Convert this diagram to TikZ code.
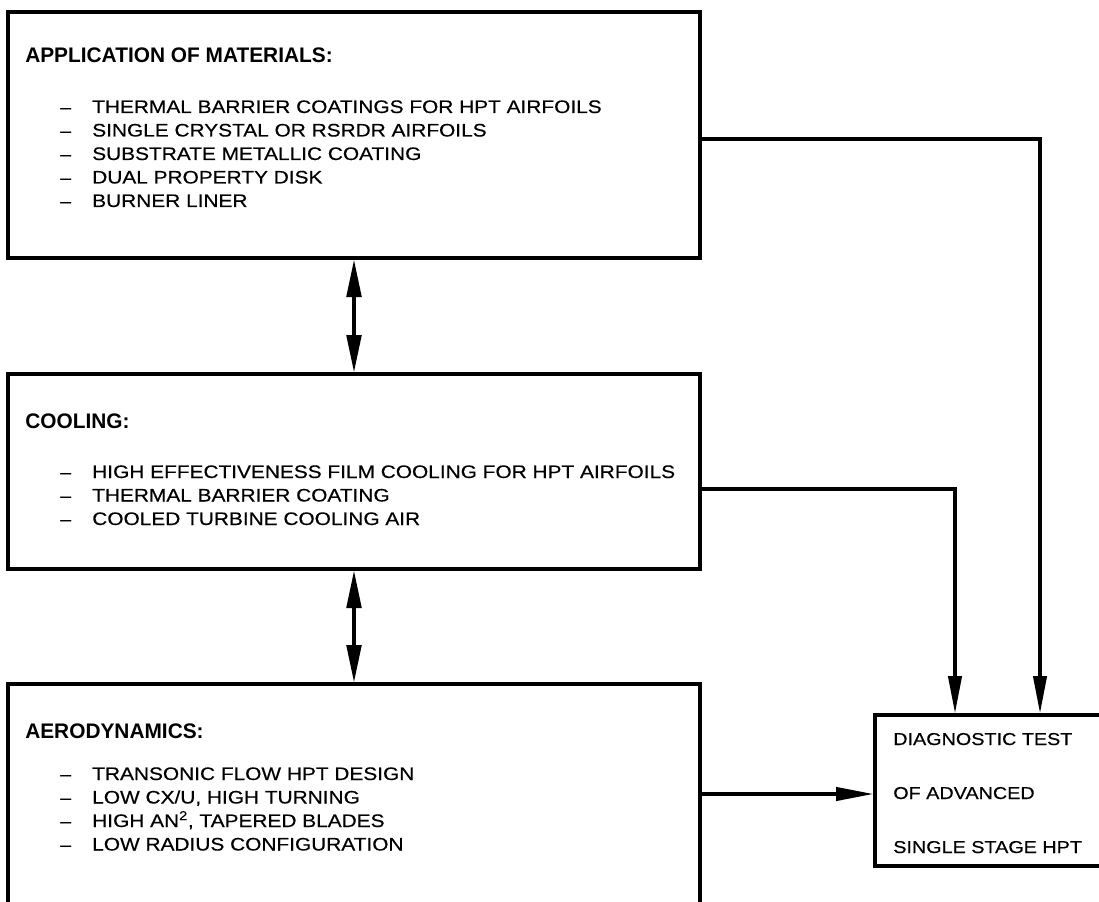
\documentclass[tikz,border=0pt]{standalone}
\usepackage{fontspec}
\setmainfont{Liberation Sans}[FakeStretch=1.15,FakeBold=0.4]
\newfontfamily\ttlfont{Liberation Sans Bold}[FakeStretch=0.99]
\usetikzlibrary{arrows.meta,calc}
\begin{document}
\begin{tikzpicture}[x=0.75pt,y=-0.75pt,
  box/.style={draw,line width=2.5pt,inner sep=0pt,rectangle},
  conn/.style={line width=2.4pt},
  tip/.style={-{Triangle[length=28pt,width=10pt]}},
  dtip/.style={{Triangle[length=28pt,width=11pt]}-{Triangle[length=28pt,width=11pt]}},
  ttl/.style={anchor=base west,inner sep=0pt,font=\ttlfont\fontsize{15.8}{18}\selectfont},
  itm/.style={anchor=base west,inner sep=0pt,font=\fontsize{13.6}{15}\selectfont},
  dgt/.style={anchor=base west,inner sep=0pt,font=\fontsize{12.9}{15}\selectfont},
  dsh/.style={anchor=base west,inner sep=0pt,font=\fontsize{12.6}{14}\selectfont}
]
\useasboundingbox (0,0) rectangle (1099,902);
% boxes
\node[box,minimum width=519pt,minimum height=184.5pt] (b1) at (354,135) {};
\node[box,minimum width=519pt,minimum height=146.25pt] (b2) at (354,471.5) {};
\node[box,minimum width=519pt,minimum height=169.5pt] (b3) at (354,797) {};
\node[box,minimum width=176.25pt,minimum height=113.25pt] (dx) at (992.5,790.5) {};
% box 1 text
\node[ttl] (t1) at (25,63) {APPLICATION OF MATERIALS:};
\foreach \y/\s [count=\i] in {113/THERMAL BARRIER COATINGS FOR HPT AIRFOILS,
  136.5/SINGLE CRYSTAL OR RSRDR AIRFOILS,
  160/SUBSTRATE METALLIC COATING,
  183.5/DUAL PROPERTY DISK,
  207/BURNER LINER}{
  \node[dsh] (d1\i) at (60,\y) {--};
  \node[itm] (a1\i) at (92,\y) {\s};
}
% box 2 text
\node[ttl] (t2) at (25,428) {COOLING:};
\foreach \y/\s [count=\i] in {478/HIGH EFFECTIVENESS FILM COOLING FOR HPT AIRFOILS,
  501.5/THERMAL BARRIER COATING,
  525/COOLED TURBINE COOLING AIR}{
  \node[dsh] (d2\i) at (60,\y) {--};
  \node[itm] (a2\i) at (92,\y) {\s};
}
% box 3 text
\node[ttl] (t3) at (25,738) {AERODYNAMICS:};
\node[dsh] (d31) at (60,780) {--};
\node[itm] (a31) at (92,780) {TRANSONIC FLOW HPT DESIGN};
\node[dsh] (d32) at (60,803.5) {--};
\node[itm] (a32) at (92,803.5) {LOW CX/U, HIGH TURNING};
\node[dsh] (d33) at (60,827) {--};
\node[itm] (a33) at (92,827) {HIGH AN\textsuperscript{2}, TAPERED BLADES};
\node[dsh] (d34) at (60,850.5) {--};
\node[itm] (a34) at (92,850.5) {LOW RADIUS CONFIGURATION};
% diagnostic text
\node[dgt] (g1) at (893,745) {DIAGNOSTIC TEST};
\node[dgt] (g2) at (893,799) {OF ADVANCED};
\node[dgt] (g3) at (893,853) {SINGLE STAGE HPT};
% connectors
\draw[conn,dtip] (b1.south) -- (b2.north);
\draw[conn,dtip] (b2.south) -- (b3.north);
\coordinate (k1) at (1040,139);
\coordinate (k2) at (955,489);
\coordinate (k3) at (800,794);
\draw[conn,tip] (b1.east |- k1) -- (k1) -- (k1 |- dx.north);
\draw[conn,tip] (b2.east |- k2) -- (k2) -- (k2 |- dx.north);
\draw[conn,tip] (b3.east |- k3) -- (dx.west |- k3);
\end{tikzpicture}
\end{document}
